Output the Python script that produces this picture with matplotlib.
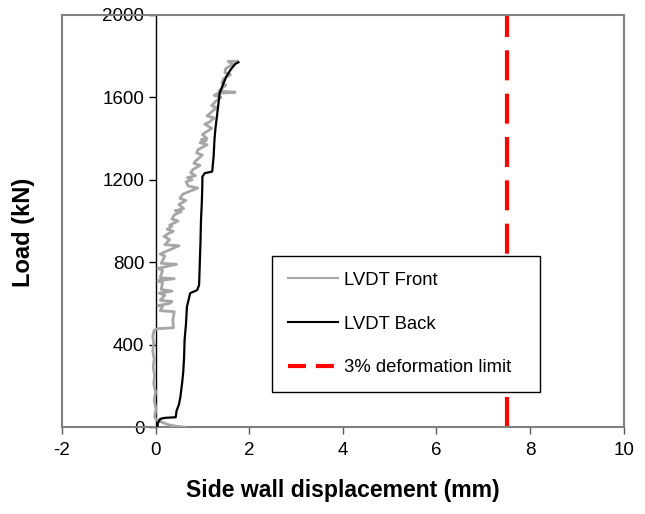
import matplotlib
matplotlib.use("Agg")
import matplotlib.pyplot as plt
from matplotlib.lines import Line2D

plt.rcParams['font.family'] = ['Liberation Sans', 'DejaVu Sans']
plt.rcParams['axes.unicode_minus'] = False

# LVDT Front (grey) displacement (mm) and load (kN)
front_disp = [0.62, 0.45, 0.30, 0.20, 0.10, 0.02, -0.02, 0.01, -0.03, 0.00, -0.04, -0.02,
              -0.05, -0.03, -0.06, -0.04, -0.06, -0.03, 0.05, 0.38, 0.37, 0.40, 0.10, 0.15,
              0.05, 0.30, 0.35, 0.10, 0.20, 0.08, 0.35, 0.12, 0.15, 0.05, 0.40, 0.10, 0.15,
              0.05, 0.45, 0.12, 0.20, 0.10, 0.50, 0.20, 0.30, 0.18, 0.28, 0.38, 0.25, 0.35,
              0.30, 0.48, 0.35, 0.40, 0.55, 0.42, 0.60, 0.50, 0.65, 0.52, 0.58, 0.90, 0.70,
              0.65, 0.78, 0.68, 0.85, 0.75, 0.80, 0.95, 0.82, 0.85, 1.00, 0.88, 0.90, 1.10,
              0.95, 1.08, 0.98, 1.10, 1.00, 1.20, 1.05, 1.15, 1.25, 1.10, 1.15, 1.30, 1.20,
              1.28, 1.40, 1.25, 1.35, 1.70, 1.35, 1.50, 1.42, 1.45, 1.60, 1.48, 1.50, 1.65,
              1.55, 1.75]
front_load = [0, 4, 10, 18, 28, 35, 50, 90, 130, 170, 210, 250,
              290, 330, 370, 410, 440, 470, 478, 482, 520, 560, 565, 585,
              590, 600, 610, 615, 640, 650, 660, 668, 700, 710, 720, 725, 760,
              770, 790, 795, 830, 840, 880, 885, 910, 925, 940, 950, 960, 975,
              980, 1000, 1010, 1030, 1045, 1050, 1060, 1080, 1100, 1110, 1130, 1160, 1170,
              1190, 1200, 1210, 1220, 1235, 1250, 1270, 1280, 1290, 1320, 1330, 1345, 1370,
              1380, 1390, 1395, 1400, 1420, 1450, 1470, 1480, 1500, 1510, 1520, 1550, 1560,
              1580, 1600, 1610, 1620, 1625, 1630, 1660, 1670, 1690, 1710, 1720, 1740, 1760,
              1775, 1775]

# LVDT Back (black)
back_disp = [0.04, 0.05, 0.10, 0.20, 0.43, 0.45, 0.50, 0.53, 0.56, 0.59, 0.61, 0.62,
             0.65, 0.67, 0.74, 0.89, 0.93, 0.96, 0.97, 0.99, 1.00, 1.00, 1.05, 1.21,
             1.24, 1.26, 1.28, 1.31, 1.37, 1.45, 1.51, 1.60, 1.70, 1.77]
back_load = [0, 20, 40, 45, 48, 80, 110, 146, 200, 262, 340, 422,
             500, 584, 650, 665, 690, 900, 1000, 1100, 1180, 1215, 1232, 1240,
             1313, 1400, 1450, 1506, 1620, 1668, 1700, 1733, 1762, 1770]

limit_x = 7.5
x_ticks = [-2, 0, 2, 4, 6, 8, 10]
y_ticks = [0, 400, 800, 1200, 1600, 2000]

fig = plt.figure(figsize=(6.45, 5.14), dpi=100)
ax = fig.add_axes([0.096, 0.169, 0.871, 0.802])

ax.plot(front_disp, front_load, color='#a6a6a6', lw=2.0, label='LVDT Front', zorder=3)
ax.plot(back_disp, back_load, color='black', lw=1.6, label='LVDT Back', zorder=4)
ax.axvline(limit_x, color='red', lw=3, dashes=(7.2, 3.2), zorder=2)

ax.set_xlim(-2, 10)
ax.set_ylim(0, 2000)
ax.set_xticks(x_ticks)
ax.set_yticks(y_ticks)
ax.tick_params(axis='both', labelsize=13.5, length=5, width=1)
ax.tick_params(axis='x', colors='#595959', labelcolor='black', pad=6)
ax.tick_params(axis='y', direction='out', pad=3)

for s in ['top', 'right', 'bottom']:
    ax.spines[s].set_color('#808080')
    ax.spines[s].set_linewidth(1.5)
ax.spines['left'].set_position(('data', 0))
ax.spines['left'].set_color('black')
ax.spines['left'].set_linewidth(1.0)
ax.axvline(-2, color='#808080', lw=1.5, clip_on=False, zorder=1)

ax.set_xlabel('Side wall displacement (mm)', fontsize=16.6, fontweight='bold', labelpad=14)
fig.text(0.037, 0.547, 'Load (kN)', rotation=90, fontsize=17, fontweight='bold',
         ha='center', va='center')

handles = [Line2D([], [], color='#a6a6a6', lw=1.5),
           Line2D([], [], color='black', lw=1.5),
           Line2D([], [], color='red', lw=3, dashes=(4.3, 2.4))]
leg = ax.legend(handles, ['LVDT Front', 'LVDT Back', '3% deformation limit'],
                loc='lower left', bbox_to_anchor=(0.374, 0.085, 0.477, 0.32),
                mode='expand', fontsize=13.3, frameon=True, fancybox=False,
                edgecolor='black', framealpha=1, handlelength=2.7, handletextpad=0.35,
                labelspacing=1.45, borderpad=0.85, borderaxespad=0)
leg.get_frame().set_linewidth(1.0)

fig.savefig('out.png', dpi=100)
